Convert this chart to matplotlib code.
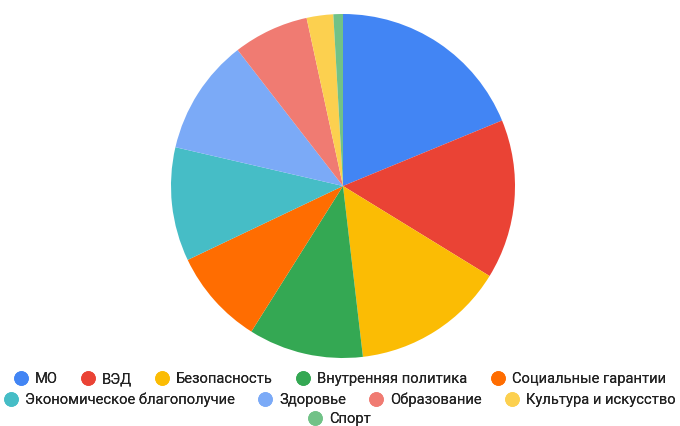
import matplotlib.pyplot as plt
from matplotlib.lines import Line2D

plt.rcParams['font.family'] = ['Roboto', 'DejaVu Sans']

labels = ['МО', 'ВЭД', 'Безопасность', 'Внутренняя политика', 'Социальные гарантии',
          'Экономическое благополучие', 'Здоровье', 'Образование', 'Культура и искусство', 'Спорт']
values = [18.8, 15.0, 14.4, 10.8, 9.0, 10.7, 10.9, 7.1, 2.5, 0.9]
colors = ['#4285F4', '#EA4335', '#FBBC04', '#34A853', '#FF6D01',
          '#46BDC6', '#7BAAF7', '#F07B72', '#FCD04F', '#71C287']

fig = plt.figure(figsize=(6.8, 4.26), dpi=100)
cx, cy, r = 343, 186, 172
ax = fig.add_axes([(cx - r) / 680, (426 - cy - r) / 426, 2 * r / 680, 2 * r / 426])
ax.pie(values, colors=colors, startangle=90, counterclock=False,
       wedgeprops=dict(linewidth=0))
ax.set_xlim(-1, 1)
ax.set_ylim(-1, 1)
ax.set_aspect('auto')
ax.axis('off')

handles = [Line2D([], [], marker='o', linestyle='', markersize=9.5,
                  markerfacecolor=c, markeredgecolor=c) for c in colors]

rows = [(0, 5, 379), (5, 9, 400), (9, 10, 419)]
for a, b, y in rows:
    leg = fig.legend(handles[a:b], labels[a:b], loc='center',
                     bbox_to_anchor=(0.5, 1 - y / 426), ncol=b - a, frameon=False,
                     fontsize=10.6, handlelength=0.9, handletextpad=0.5,
                     columnspacing=1.6, labelcolor='#222222', borderpad=0)
    fig.add_artist(leg)

fig.savefig('out.png', dpi=100)
